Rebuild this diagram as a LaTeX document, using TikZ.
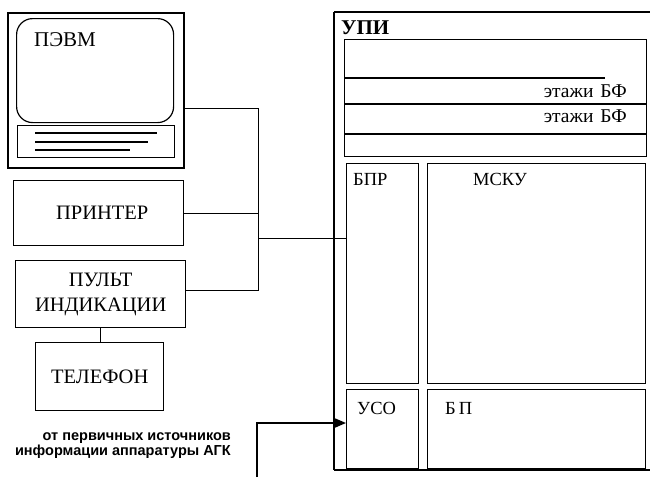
\documentclass[tikz,border=0pt]{standalone}
\usepackage{fontspec}
\setmainfont{Liberation Serif}
\newfontfamily\sansf{Liberation Sans}
\usetikzlibrary{arrows.meta}
\begin{document}
\begin{tikzpicture}[x=1pt,y=-1pt,
  box/.style={draw,line width=1.4pt,anchor=north west,inner sep=0pt,font=\fontsize{20.5}{25}\selectfont,align=center},
  ibox/.style={draw,line width=1.2pt,anchor=north west,inner sep=0pt},
  lbl/.style={font=\fontsize{18.5}{20}\selectfont,inner sep=0pt},
  wire/.style={line width=1pt},
  strip/.style={line width=1.5pt}]
\useasboundingbox (0,0) rectangle (650,477);
% monitor
\node[box,line width=2pt,minimum width=176,minimum height=155] (pevm) at (7,12) {};
\node[draw,line width=1.2pt,rounded corners=16pt,anchor=north west,minimum width=157,minimum height=104,inner sep=0pt] (screen) at (16,18) {};
\node[ibox,minimum width=157,minimum height=32] (panel) at (17,125) {};
\node[lbl,font=\fontsize{21}{22}\selectfont,anchor=west] (pevmt) at (34,40) {ПЭВМ};
\coordinate (l1a) at (35,133); \coordinate (l1b) at (157,133);
\coordinate (l2a) at (35,142); \coordinate (l2b) at (148,142);
\coordinate (l3a) at (35,150); \coordinate (l3b) at (130,150);
\draw[strip] (l1a) -- (l1b);
\draw[strip] (l2a) -- (l2b);
\draw[strip] (l3a) -- (l3b);
% left boxes
\node[box,minimum width=170,minimum height=65] (printer) at (13,180) {\hspace*{7pt}ПРИНТЕР};
\node[box,minimum width=170,minimum height=67] (pult) at (15,260) {ПУЛЬТ\\ИНДИКАЦИИ};
\node[box,minimum width=128,minimum height=68] (phone) at (35,342) {ТЕЛЕФОН};
\draw[wire] (pult.south -| 100,0) -- (phone.north -| 100,0);
% bus
\coordinate (busA) at (258,108);
\coordinate (busB) at (258,213);
\coordinate (busC) at (258,238);
\coordinate (busD) at (258,290);
\draw[wire] (pevm.east |- busA) -- (busA) -- (busD) -- (pult.east |- busD);
\draw[wire] (printer.east |- busB) -- (busB);
% UPI frame
\coordinate (f1) at (650,12); \coordinate (f2) at (334,12);
\coordinate (f3) at (334,470); \coordinate (f4) at (650,470);
\draw[line width=2pt] (f1) -- (f2);
\draw[line width=1.4pt] (f2) -- (f3);
\draw[line width=1.8pt] (f3) -- (f4);
\node[lbl,anchor=west,font=\fontsize{21}{22}\bfseries\selectfont] (upi) at (341,28) {УПИ};
% floors box
\node[ibox,minimum width=302,minimum height=117] (floors) at (344,39) {};
\coordinate (h1a) at (344,78); \coordinate (h1b) at (605,78);
\coordinate (h2a) at (344,104); \coordinate (h2b) at (646,104);
\coordinate (h3a) at (344,134); \coordinate (h3b) at (646,134);
\draw[line width=1.2pt] (h1a) -- (h1b);
\draw[line width=1.2pt] (h2a) -- (h2b);
\draw[line width=1.2pt] (h3a) -- (h3b);
\node[lbl,anchor=east,font=\fontsize{19.5}{20}\selectfont] (bf1) at (627,91) {этажи\hspace{7pt}БФ};
\node[lbl,anchor=east,font=\fontsize{19.5}{20}\selectfont] (bf2) at (627,116) {этажи\hspace{7pt}БФ};
% inner blocks
\node[ibox,minimum width=72,minimum height=220] (bpr) at (346,163) {};
\node[ibox,minimum width=218,minimum height=220] (msku) at (427,163) {};
\node[ibox,minimum width=72,minimum height=79] (uso) at (346,389) {};
\node[ibox,minimum width=218,minimum height=79] (bp) at (427,389) {};
\node[lbl,anchor=west] (bprt) at (353,179) {БПР};
\node[lbl,anchor=west] (mskut) at (473,179) {МСКУ};
\node[lbl,anchor=west] (usot) at (357,408) {УСО};
\node[lbl,anchor=west] (bpt) at (445,408) {Б\,П};
% bus to BPR
\draw[wire] (busC) -- (bpr.west |- busC);
% input arrow
\coordinate (src) at (257,477);
\coordinate (bend) at (257,423);
\draw[line width=1.5pt,-{Triangle[length=11pt,width=9pt]}] (src) -- (bend) -- (uso.west |- bend);
\node[font=\sansf\bfseries\fontsize{14.5}{15}\selectfont,align=right,anchor=east,inner sep=0pt] (srctext) at (231,446) {от первичных источников\\информации аппаратуры АГК};
\end{tikzpicture}
\end{document}
